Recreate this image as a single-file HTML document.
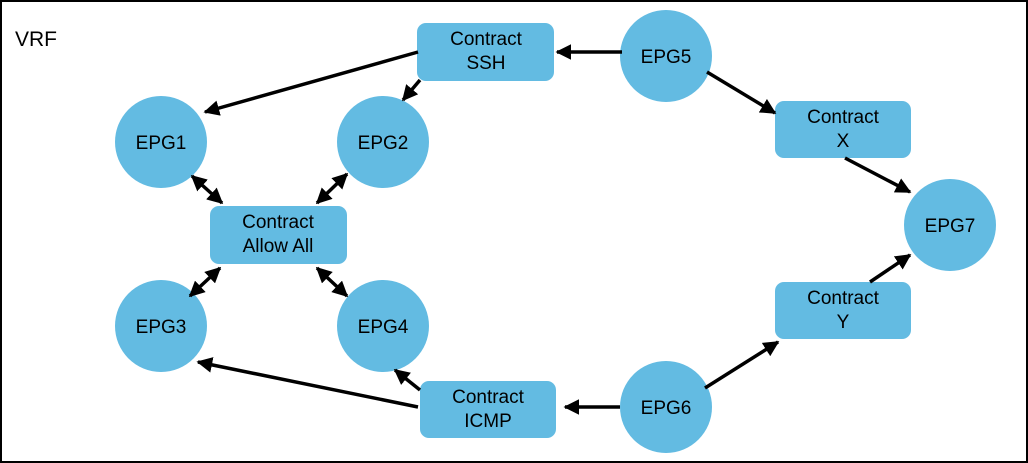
<!DOCTYPE html><html><head><style>body{margin:0;background:#fff}svg{display:block}text{font-family:"Liberation Sans",sans-serif;font-size:19px;fill:#000}</style></head><body>
<svg width="1028" height="463" viewBox="0 0 1028 463">
<defs><marker id="a" viewBox="0 0 10 10" refX="9" refY="5" markerWidth="4.5" markerHeight="4.5" orient="auto-start-reverse"><path d="M0,0L10,5L0,10z" fill="#000"/></marker></defs>
<rect x="1" y="1" width="1026" height="461" fill="#fff" stroke="#000" stroke-width="2"/>
<text x="15" y="46" style="font-size:21px">VRF</text>
<g fill="#63bbe2">
<circle cx="161" cy="142" r="46"/><circle cx="383" cy="142" r="46"/><circle cx="161" cy="326" r="46"/><circle cx="383" cy="326" r="46"/>
<circle cx="666" cy="56" r="46"/><circle cx="666" cy="407" r="46"/><circle cx="950" cy="225" r="46"/>
<rect x="417" y="23" width="137" height="58" rx="9"/><rect x="775" y="101" width="136" height="57" rx="9"/>
<rect x="210" y="206" width="137" height="58" rx="9"/><rect x="775" y="282" width="136" height="57" rx="9"/>
<rect x="420" y="381" width="136" height="57" rx="9"/>
</g>
<g stroke="#000" stroke-width="3.5" marker-end="url(#a)">
<line x1="418" y1="52" x2="205" y2="112"/>
<line x1="420" y1="80" x2="403" y2="100"/>
<line x1="622" y1="52" x2="557" y2="52"/>
<line x1="707" y1="72" x2="775" y2="113"/>
<line x1="845" y1="158" x2="910" y2="192"/>
<line x1="870" y1="282" x2="910" y2="255"/>
<line x1="705" y1="388" x2="778" y2="342"/>
<line x1="620" y1="407" x2="565" y2="407"/>
<line x1="420" y1="390" x2="395" y2="370"/>
<line x1="418" y1="407" x2="198" y2="362"/>
<line x1="192" y1="176" x2="222" y2="203" marker-start="url(#a)"/>
<line x1="347" y1="174" x2="317" y2="203" marker-start="url(#a)"/>
<line x1="190" y1="296" x2="220" y2="268" marker-start="url(#a)"/>
<line x1="317" y1="268" x2="347" y2="296" marker-start="url(#a)"/>
</g>
<g text-anchor="middle">
<text x="161" y="149">EPG1</text><text x="383" y="149">EPG2</text><text x="161" y="333">EPG3</text><text x="383" y="333">EPG4</text>
<text x="666" y="63">EPG5</text><text x="666" y="414">EPG6</text><text x="950" y="232">EPG7</text>
<text x="486" y="45">Contract</text><text x="486" y="69">SSH</text>
<text x="843" y="123">Contract</text><text x="843" y="147">X</text>
<text x="278" y="228">Contract</text><text x="278" y="252">Allow All</text>
<text x="843" y="304">Contract</text><text x="843" y="328">Y</text>
<text x="488" y="403">Contract</text><text x="488" y="427">ICMP</text>
</g>
</svg></body></html>
